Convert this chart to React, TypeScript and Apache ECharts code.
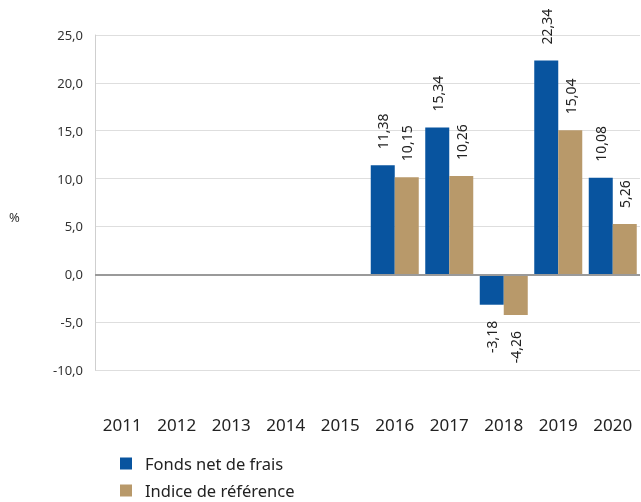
import React, { useEffect, useRef } from "react";
import * as echarts from "echarts";

const categories = ["2011", "2012", "2013", "2014", "2015", "2016", "2017", "2018", "2019", "2020"];
const fondsValues: (number | null)[] = [null, null, null, null, null, 11.38, 15.34, -3.18, 22.34, 10.08];
const indiceValues: (number | null)[] = [null, null, null, null, null, 10.15, 10.26, -4.26, 15.04, 5.26];
const seriesNames = ["Fonds net de frais", "Indice de référence"];
const colors = ["#08549f", "#b8996a"];

const FONT = "'Noto Sans', 'Open Sans', sans-serif";
const fmt = (v: number, d: number) => v.toFixed(d).replace(".", ",");

function toData(vals: (number | null)[]) {
  return vals.map((v) =>
    v === null
      ? null
      : {
          value: v,
          label:
            v >= 0
              ? { position: "top", align: "left", verticalAlign: "middle" }
              : { position: "bottom", align: "right", verticalAlign: "middle" },
        }
  );
}

export default function App() {
  const ref = useRef<HTMLDivElement>(null);
  useEffect(() => {
    const chart = echarts.init(ref.current!, undefined, { renderer: "svg" });
    const labelCfg = {
      show: true,
      rotate: 90,
      distance: 16,
      fontSize: 14,
      fontFamily: FONT,
      color: "#222",
      formatter: (p: any) => fmt(p.value, 2),
    };
    const legendBase = {
      orient: "vertical",
      left: 120,
      padding: 0,
      itemWidth: 12,
      itemHeight: 12,
      icon: "rect",
      textStyle: { fontSize: 16.5, fontFamily: FONT, color: "#222", padding: [0, 0, 0, 8] },
    };
    chart.setOption({
      animation: false,
      textStyle: { fontFamily: FONT },
      grid: { left: 95, right: 1, top: 35, bottom: 132 },
      graphic: [
        {
          type: "text",
          left: 9,
          top: 210,
          style: { text: "%", fontSize: 13, fontFamily: FONT, fill: "#333" },
        },
      ],
      legend: [
        { ...legendBase, top: 455, data: [seriesNames[0]] },
        { ...legendBase, top: 482, data: [seriesNames[1]] },
      ],
      xAxis: {
        type: "category",
        data: categories,
        axisLine: { show: false },
        axisTick: { show: false },
        axisLabel: { margin: 46, fontSize: 17, color: "#222", fontFamily: FONT },
      },
      yAxis: {
        type: "value",
        min: -10,
        max: 25,
        interval: 5,
        axisLine: { show: true, lineStyle: { color: "#cfcfcf" } },
        axisTick: { show: false },
        splitLine: { lineStyle: { color: "#dedede" } },
        axisLabel: {
          fontSize: 13,
          color: "#333",
          margin: 12,
          fontFamily: FONT,
          formatter: (v: number) => fmt(v, 1),
        },
      },
      series: [
        {
          name: seriesNames[0],
          type: "bar",
          data: toData(fondsValues),
          barWidth: 24,
          barGap: "0%",
          itemStyle: { color: colors[0] },
          label: labelCfg,
          markLine: {
            silent: true,
            symbol: "none",
            label: { show: false },
            lineStyle: { color: "#9a9a9a", width: 2, type: "solid" },
            data: [{ yAxis: 0 }],
          },
        },
        {
          name: seriesNames[1],
          type: "bar",
          data: toData(indiceValues),
          barWidth: 24,
          barGap: "0%",
          itemStyle: { color: colors[1] },
          label: labelCfg,
        },
      ],
    });
    return () => chart.dispose();
  }, []);
  return <div ref={ref} style={{ position: "fixed", left: 0, top: 0, width: 641, height: 502 }} />;
}
